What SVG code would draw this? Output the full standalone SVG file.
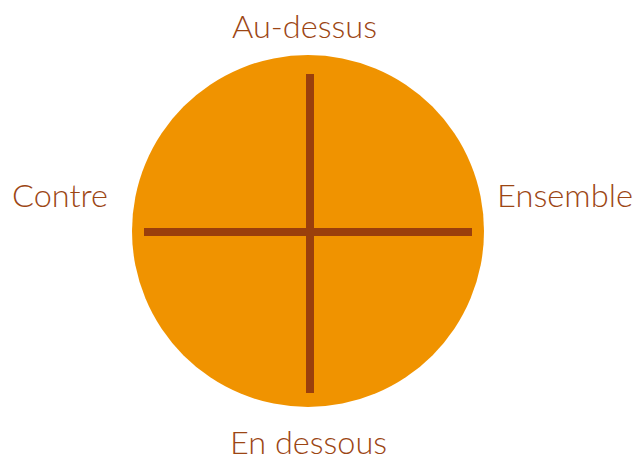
<svg xmlns="http://www.w3.org/2000/svg" width="635" height="461" viewBox="0 0 635 461">
<style>
.lbl{font-family:Lato,"Noto Sans","Liberation Sans",sans-serif;font-size:31px;fill:#9C4614;font-weight:300}
.bar{stroke:#9A3F0C;stroke-width:8;fill:none}
</style>
<rect width="635" height="461" fill="#ffffff"/>
<g id="circle">
<circle cx="308" cy="231" r="176" fill="#F09300"/>
</g>
<g id="connectors">
<line class="bar" x1="310" y1="74" x2="310" y2="393"/>
<line class="bar" x1="144" y1="232" x2="472" y2="232"/>
</g>
<g id="top"><text class="lbl" x="232" y="38" textLength="145" lengthAdjust="spacingAndGlyphs">Au-dessus</text></g>
<g id="left"><text class="lbl" x="12" y="207" textLength="96" lengthAdjust="spacingAndGlyphs">Contre</text></g>
<g id="right"><text class="lbl" x="497" y="207" textLength="136" lengthAdjust="spacingAndGlyphs">Ensemble</text></g>
<g id="bottom"><text class="lbl" x="230" y="454" textLength="157" lengthAdjust="spacingAndGlyphs">En dessous</text></g>
</svg>
